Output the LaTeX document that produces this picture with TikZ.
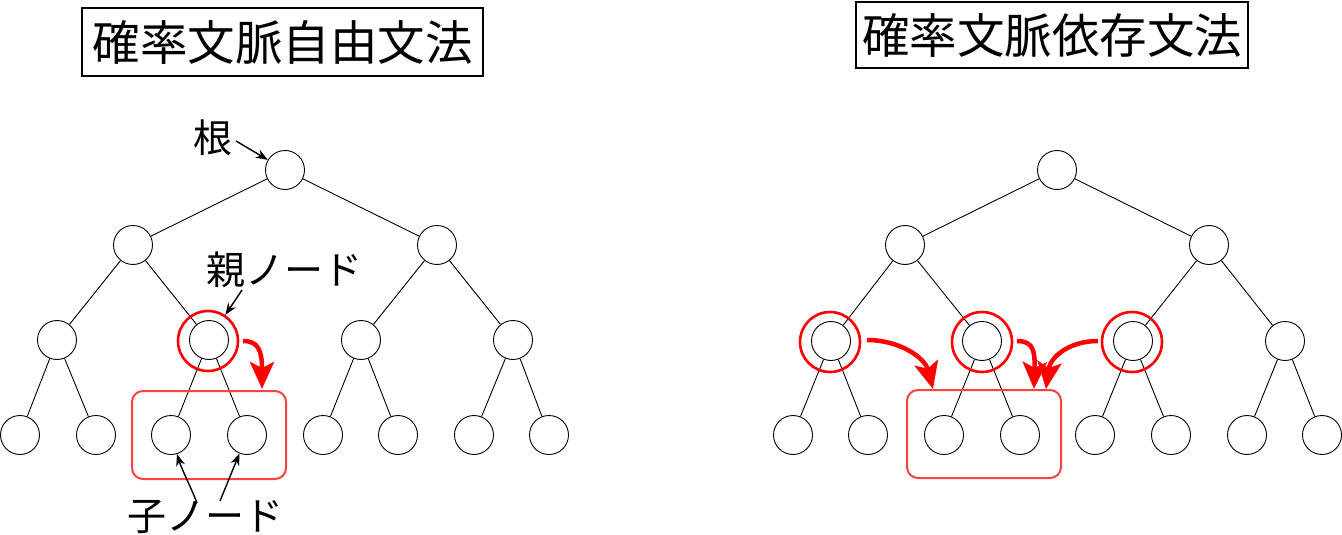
\documentclass[tikz,border=0pt]{standalone}
\usepackage{fontspec}
\setmainfont{Noto Sans CJK JP}
\usetikzlibrary{arrows.meta}
\tikzset{
  nd/.style={circle,draw=black,line width=0.9pt,minimum size=39pt,inner sep=0pt,fill=white},
  ring/.style={circle,draw=red,line width=2.6pt,minimum size=60pt,inner sep=0pt},
  edge/.style={draw=black,line width=0.9pt},
  grp/.style={draw=red!75,line width=2pt,rounded corners=11pt},
  bigarrow/.style={draw=red,line width=4.5pt,-{Stealth[length=27pt,width=24pt,inset=6pt]}},
  lblarrow/.style={draw=black,line width=1.4pt,-{Stealth[length=12pt,width=9pt]}},
  titlebox/.style={draw=black,line width=1.2pt,inner sep=0pt,font=\fontsize{47.5pt}{50pt}\selectfont},
  lbl/.style={inner sep=0pt,font=\fontsize{39pt}{42pt}\selectfont}
}
\begin{document}
\begin{tikzpicture}[x=1pt,y=-1pt]
\useasboundingbox (0,0) rectangle (1342,535);
% titles
\node[titlebox,minimum width=401pt,minimum height=68pt] (t1) at (282.5,42) {確率文脈自由文法};
\node[titlebox,minimum width=392pt,minimum height=66pt] (t2) at (1052,35) {確率文脈依存文法};
% left tree
\node[nd] (a1) at (285,170) {};
\node[nd] (a2) at (133,245) {};
\node[nd] (a3) at (437,245) {};
\node[nd] (a4) at (57,340) {};
\node[nd] (a5) at (209,340) {};
\node[nd] (a6) at (361,340) {};
\node[nd] (a7) at (513,340) {};
\node[nd] (a8) at (20,435) {};
\node[nd] (a9) at (96,435) {};
\node[nd] (a10) at (171,435) {};
\node[nd] (a11) at (247,435) {};
\node[nd] (a12) at (323,435) {};
\node[nd] (a13) at (398,435) {};
\node[nd] (a14) at (474,435) {};
\node[nd] (a15) at (549,435) {};
\foreach \p/\c in {a1/a2,a1/a3,a2/a4,a2/a5,a3/a6,a3/a7,a4/a8,a4/a9,a5/a10,a5/a11,a6/a12,a6/a13,a7/a14,a7/a15}
  \draw[edge] (\p) -- (\c);
\node[ring] (ra) at (208,341) {};
\node[grp,minimum width=154pt,minimum height=88pt] (ga) at (209,435) {};
\coordinate (sa) at (243,341);
\coordinate (ea) at (262,389);
\draw[bigarrow] (sa) .. controls (258,341) and (262,350) .. (ea);
% labels
\node[lbl] (root) at (213,138) {根};
\coordinate (rs) at (236,141);
\draw[lblarrow] (rs) -- (a1);
\node[lbl,anchor=west] (par) at (206,270) {親ノード};
\coordinate (ps) at (242,290);
\draw[lblarrow] (ps) -- (ra);
\node[lbl,anchor=west] (chi) at (127,517) {子ノード};
\coordinate (c1) at (197,503);
\coordinate (c2) at (220,501);
\draw[lblarrow] (c1) .. controls (190,485) and (182,470) .. (a10);
\draw[lblarrow] (c2) -- (a11);
% right tree
\node[nd] (b1) at (1057,170) {};
\node[nd] (b2) at (905,245) {};
\node[nd] (b3) at (1209,245) {};
\node[nd] (b4) at (831,341) {};
\node[nd] (b5) at (982,341) {};
\node[nd] (b6) at (1133,341) {};
\node[nd] (b7) at (1285,341) {};
\node[nd] (b8) at (793,435) {};
\node[nd] (b9) at (868,435) {};
\node[nd] (b10) at (944,435) {};
\node[nd] (b11) at (1020,435) {};
\node[nd] (b12) at (1095,435) {};
\node[nd] (b13) at (1171,435) {};
\node[nd] (b14) at (1247,435) {};
\node[nd] (b15) at (1322,435) {};
\foreach \p/\c in {b1/b2,b1/b3,b2/b4,b2/b5,b3/b6,b3/b7,b4/b8,b4/b9,b5/b10,b5/b11,b6/b12,b6/b13,b7/b14,b7/b15}
  \draw[edge] (\p) -- (\c);
\node[ring] (rb1) at (830,342) {};
\node[ring] (rb2) at (982,342) {};
\node[ring] (rb3) at (1132,342) {};
\node[grp,minimum width=154pt,minimum height=88pt] (gb) at (984,434) {};
\coordinate (s1) at (867,340);
\coordinate (e1) at (933,389);
\coordinate (s2) at (1017,341);
\coordinate (e2) at (1034,389);
\coordinate (s3) at (1098,341);
\coordinate (e3) at (1046,389);
\draw[bigarrow] (s1) .. controls (900,340) and (925,358) .. (e1);
\draw[bigarrow] (s2) .. controls (1034,341) and (1035,352) .. (e2);
\draw[bigarrow] (s3) .. controls (1068,341) and (1050,358) .. (e3);
\end{tikzpicture}
\end{document}
